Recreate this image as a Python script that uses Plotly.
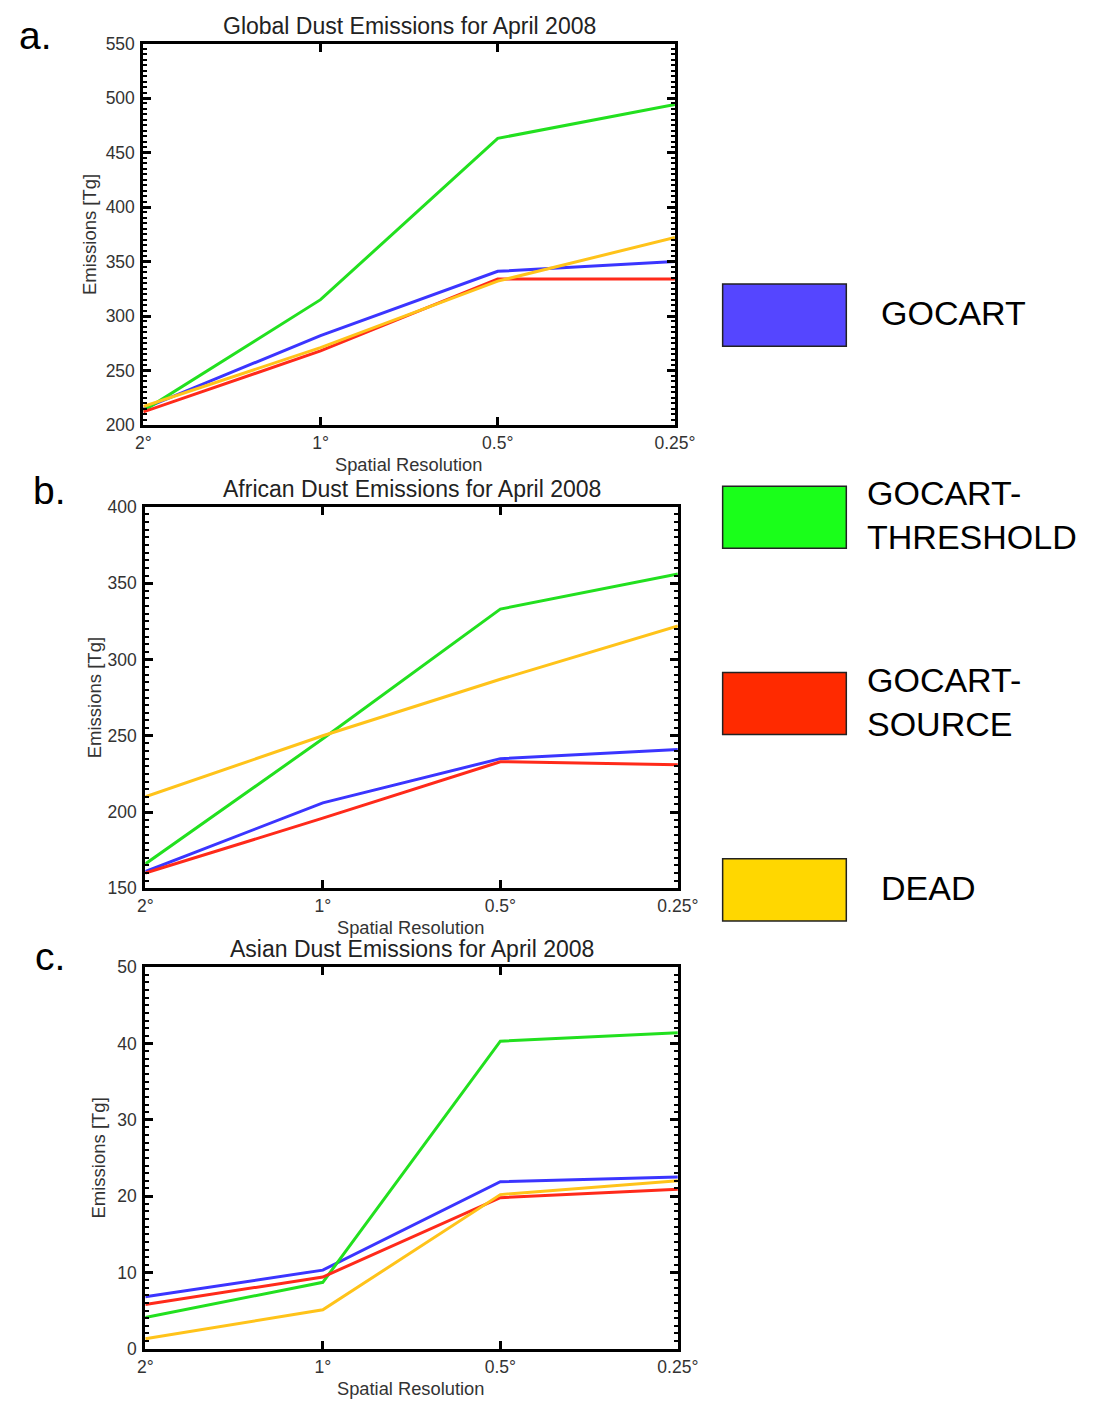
import plotly.graph_objects as go

# ---------------- data ----------------
resolutions = ["2°", "1°", "0.5°", "0.25°"]
models = ["GOCART", "GOCART-THRESHOLD", "GOCART-SOURCE", "DEAD"]

global_gocart = [215, 282, 341, 350]
global_threshold = [213, 315, 463, 494]
global_source = [212, 268, 334, 334]
global_dead = [217, 271, 332, 372]

africa_gocart = [161, 206, 235, 241]
africa_threshold = [166, 248, 333, 356]
africa_source = [160, 196, 233, 231]
africa_dead = [210, 250, 287, 322]

asia_gocart = [6.8, 10.3, 21.9, 22.5]
asia_threshold = [4.1, 8.7, 40.3, 41.4]
asia_source = [5.8, 9.4, 19.8, 20.9]
asia_dead = [1.3, 5.1, 20.2, 22.0]

panel_titles = ["Global Dust Emissions for April 2008",
                "African Dust Emissions for April 2008",
                "Asian Dust Emissions for April 2008"]
panel_letters = ["a.", "b.", "c."]
y_ranges = [[200, 550], [150, 400], [0, 50]]
y_major = [50, 50, 10]
y_minor = [5, 5, 1]

line_colors = ["#3b35ff", "#22e01f", "#ff2a1a", "#ffc31a"]
box_colors = ["#5546ff", "#1aff1a", "#ff2a00", "#ffd700"]

panels = [
    [global_gocart, global_threshold, global_source, global_dead],
    [africa_gocart, africa_threshold, africa_source, africa_dead],
    [asia_gocart, asia_threshold, asia_source, asia_dead],
]

W, H = 1100, 1409
FONT = "Liberation Sans, Arial, Helvetica, sans-serif"

def px(x):
    return x / W

def py(y):
    return 1 - y / H

# plot area boxes in page pixels (left, right, top, bottom)
boxes = [(139, 685, 34, 421), (141, 688, 504, 891), (141, 688, 971, 1358)]

fig = go.Figure()
layout = dict(
    width=W, height=H,
    margin=dict(l=0, r=0, t=0, b=0),
    paper_bgcolor="white", plot_bgcolor="white",
    showlegend=False,
    font=dict(family=FONT, color="#333333"),
)

annotations = []
shapes = []
TICKFONT = dict(size=17.5, color="#333333", family=FONT)

for i, series in enumerate(panels):
    sfx = "" if i == 0 else str(i + 1)
    for j, vals in enumerate(series):
        fig.add_trace(go.Scatter(
            x=resolutions, y=vals, mode="lines",
            name=models[j],
            line=dict(color=line_colors[j], width=3),
            xaxis="x" + sfx, yaxis="y" + sfx,
        ))
    l, r, t, b = boxes[i]
    layout["xaxis" + sfx] = dict(
        domain=[px(l), px(r)], anchor="y" + sfx,
        type="category", categoryorder="array", categoryarray=resolutions,
        range=[0, 3], showgrid=False, zeroline=False,
        showline=True, linewidth=3, linecolor="black", mirror="ticks",
        ticks="inside", ticklen=8, tickwidth=3, tickcolor="black",
        tickfont=TICKFONT,
    )
    layout["yaxis" + sfx] = dict(
        domain=[py(b), py(t)], anchor="x" + sfx,
        range=y_ranges[i], dtick=y_major[i], tick0=0,
        showgrid=False, zeroline=False,
        showline=True, linewidth=3, linecolor="black", mirror="ticks",
        ticks="inside", ticklen=8, tickwidth=3, tickcolor="black",
        minor=dict(dtick=y_minor[i], tick0=0, ticks="inside", ticklen=4,
                   tickwidth=2, tickcolor="black", showgrid=False),
        tickfont=TICKFONT,
        ticklabelstandoff=2,
    )
    cx = (l + r) / 2
    annotations.append(dict(
        text=panel_titles[i], x=px(cx), y=py(t - 18), xref="paper", yref="paper",
        showarrow=False, font=dict(size=23, color="#222222", family=FONT),
        xanchor="center", yanchor="middle"))
    annotations.append(dict(
        text="Spatial Resolution", x=px(cx - 1), y=py(b + 40), xref="paper", yref="paper",
        showarrow=False, font=dict(size=18.3, color="#333333", family=FONT),
        xanchor="center", yanchor="middle"))
    annotations.append(dict(
        text="Emissions [Tg]", x=px(l - 56 + (i * 4)), y=py((t + b) / 2),
        xref="paper", yref="paper", textangle=-90,
        showarrow=False, font=dict(size=18.5, color="#333333", family=FONT),
        xanchor="center", yanchor="middle"))

letter_pos = [(28, 26), (43, 487), (43, 960)]
for i, (lx, ly) in enumerate(letter_pos):
    annotations.append(dict(
        text=panel_letters[i], x=px(lx), y=py(ly), xref="paper", yref="paper",
        showarrow=False, font=dict(size=39, color="black", family=FONT),
        xanchor="center", yanchor="middle"))

# legend blocks (paper coordinates)
legend_rows = [(278, 341), (483, 546), (672, 735), (861, 924)]
legend_texts = ["GOCART", "GOCART-<br>THRESHOLD", "GOCART-<br>SOURCE", "DEAD"]
legend_text_x = [895, 880, 880, 895]
for k, (y0, y1) in enumerate(legend_rows):
    shapes.append(dict(
        type="rect", xref="paper", yref="paper",
        x0=px(734), x1=px(861), y0=py(y1), y1=py(y0),
        fillcolor=box_colors[k], line=dict(color="#222222", width=1.5)))
    annotations.append(dict(
        text=legend_texts[k], x=px(legend_text_x[k]), y=py((y0 + y1) / 2 - 2),
        xref="paper", yref="paper", showarrow=False, align="left",
        font=dict(size=34, color="black", family=FONT),
        xanchor="left", yanchor="middle"))

layout["annotations"] = annotations
layout["shapes"] = shapes
fig.update_layout(**layout)
fig.write_html("out.html")
